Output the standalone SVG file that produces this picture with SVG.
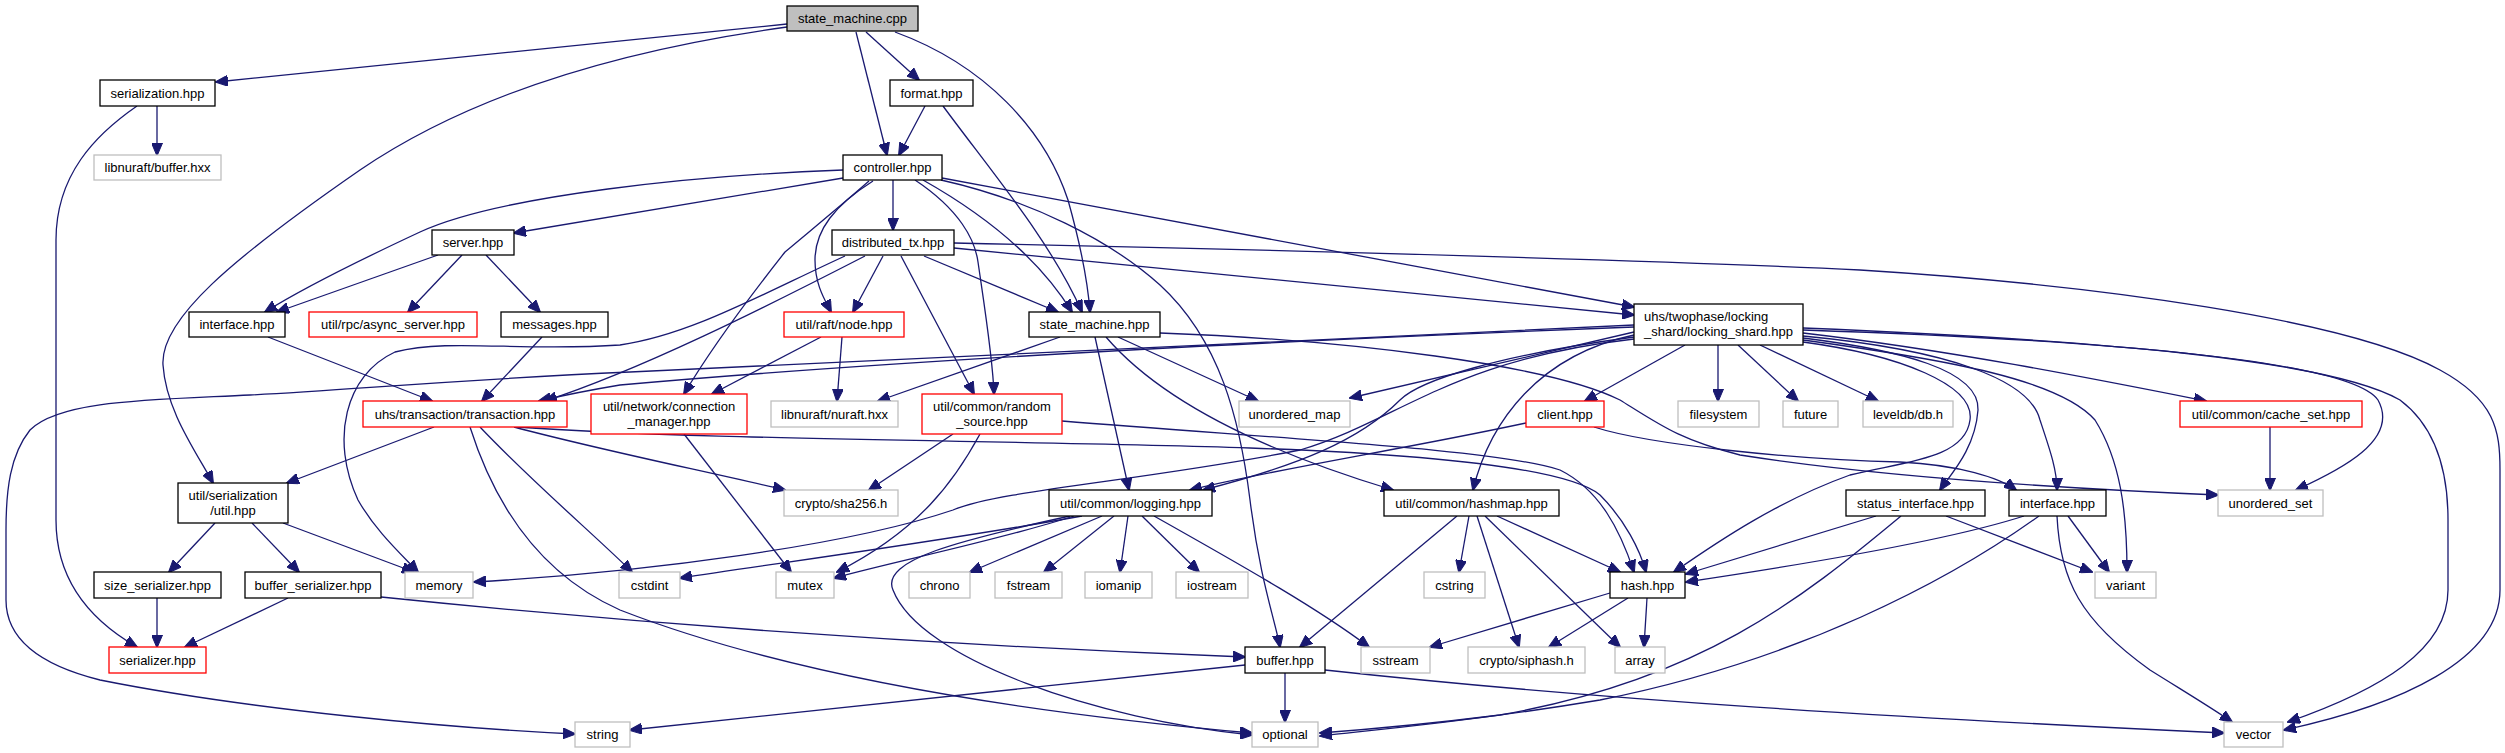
<svg xmlns="http://www.w3.org/2000/svg" width="2505" height="753" viewBox="0 0 2505 753">
<style>
rect{stroke-width:1.3}
.n{fill:#fff;stroke:#000}
.r{fill:#fff;stroke:#ff0000}
.g{fill:#fff;stroke:#bfbfbf}
.root{fill:#bfbfbf;stroke:#000}
text{font-family:"Liberation Sans",Arial,sans-serif;font-size:13px;fill:#000;text-anchor:middle}
.e path{fill:none;stroke:#191970;stroke-width:1.3;marker-end:url(#ah)}
</style>
<defs>
<marker id="ah" markerWidth="13" markerHeight="11" refX="12" refY="5.5" orient="auto" markerUnits="userSpaceOnUse">
<path d="M0,0 L13,5.5 L0,11 z" fill="#191970" stroke="#191970" stroke-width="1"/>
</marker>
</defs>
<rect width="2505" height="753" fill="#fff"/>
<g class="e" id="edges">
<path d="M787,24 L216,82"/>
<path d="M787,27 C620,50 470,95 360,170 C230,260 160,320 163,365 C166,410 195,450 213,483"/>
<path d="M866,32 L919,80"/>
<path d="M856,32 L887,155"/>
<path d="M895,32 C985,65 1045,130 1068,200 C1082,250 1088,285 1090,312"/>
<path d="M157,106 L157,155"/>
<path d="M137,106 C95,135 56,175 56,240 L56,520 C56,580 90,620 137,647"/>
<path d="M925,106 L899,155"/>
<path d="M943,106 C990,170 1050,240 1082,312"/>
<path d="M843,170 C700,175 500,195 420,232 C360,260 300,290 265,312"/>
<path d="M843,178 L514,233"/>
<path d="M893,180 L893,230"/>
<path d="M873,181 C835,205 815,230 815,260 C815,285 825,300 831,312"/>
<path d="M869,181 C830,215 805,235 785,252 C755,290 710,350 684,394"/>
<path d="M915,180 C960,210 975,240 978,262 C985,310 993,360 994,394"/>
<path d="M923,180 C985,215 1040,260 1072,312"/>
<path d="M941,180 C1030,200 1110,240 1160,285 C1220,340 1240,420 1250,500 C1260,580 1275,620 1280,647"/>
<path d="M942,178 L1634,307"/>
<path d="M438,255 L277,312"/>
<path d="M462,255 L408,312"/>
<path d="M486,255 L540,312"/>
<path d="M865,256 C760,310 640,370 545,401"/>
<path d="M845,256 C760,295 690,335 620,345 C520,352 450,338 395,352 C345,375 330,440 358,500 C375,530 400,553 418,572"/>
<path d="M883,256 L853,312"/>
<path d="M924,256 L1058,312"/>
<path d="M901,256 L974,394"/>
<path d="M954,248 L1634,315"/>
<path d="M954,243 C1300,250 1700,262 1860,270 C2100,285 2350,320 2440,370 C2495,400 2500,430 2500,470 L2500,590 C2500,660 2400,705 2284,730"/>
<path d="M268,337 L432,401"/>
<path d="M542,337 L482,401"/>
<path d="M821,337 L712,394"/>
<path d="M842,337 L837,401"/>
<path d="M1060,337 L878,401"/>
<path d="M1118,337 L1258,401"/>
<path d="M1095,337 L1129,490"/>
<path d="M1106,337 C1160,400 1260,450 1393,490"/>
<path d="M1160,333 C1350,340 1550,365 1620,400 C1660,425 1680,440 1740,455 C1900,480 2100,490 2218,495"/>
<path d="M1634,327 C1300,340 900,360 620,385 C590,390 565,395 539,401"/>
<path d="M1634,325 C1200,345 800,365 630,372 C450,380 350,390 250,395 C150,400 60,400 30,430 C10,455 6,490 6,530 L6,600 C6,640 40,665 100,680 C250,710 450,728 575,734"/>
<path d="M1634,332 L1350,398"/>
<path d="M1685,345 L1585,401"/>
<path d="M1718,345 L1718,401"/>
<path d="M1738,345 L1798,401"/>
<path d="M1760,345 L1878,401"/>
<path d="M1803,333 C1950,350 2100,380 2206,401"/>
<path d="M1803,330 C2100,340 2350,360 2378,400 C2400,440 2340,470 2296,490"/>
<path d="M1803,328 C2100,340 2330,360 2400,400 C2440,430 2448,480 2448,520 L2448,590 C2448,650 2380,690 2288,722"/>
<path d="M1803,338 C1900,350 1980,370 1978,410 C1975,450 1950,475 1940,490"/>
<path d="M1803,336 C1950,350 2030,380 2040,420 C2050,450 2057,470 2057,490"/>
<path d="M1803,340 C1950,360 2060,380 2095,420 C2120,460 2127,510 2127,572"/>
<path d="M1634,335 C1540,355 1490,420 1473,490"/>
<path d="M1803,342 C1900,355 1975,385 1970,420 C1965,460 1900,462 1850,475 C1780,500 1720,540 1674,572"/>
<path d="M1634,337 C1500,355 1420,380 1400,400 C1360,440 1300,465 1203,490"/>
<path d="M1634,339 C1450,360 1400,420 1300,450 C1150,480 1000,490 953,510 C850,545 650,572 474,582"/>
<path d="M1526,423 C1400,450 1270,470 1190,490"/>
<path d="M1594,427 C1650,445 1800,460 1900,462 C1960,465 2000,478 2016,490"/>
<path d="M2270,427 L2270,490"/>
<path d="M434,427 L287,483"/>
<path d="M514,427 C600,450 700,470 785,490"/>
<path d="M480,427 C530,480 600,540 632,572"/>
<path d="M470,427 C490,490 530,570 620,610 C800,680 1050,715 1252,733"/>
<path d="M516,427 C700,440 1000,440 1250,448 C1450,455 1570,470 1600,495 C1625,520 1640,550 1646,572"/>
<path d="M684,434 L791,572"/>
<path d="M953,434 L869,490"/>
<path d="M980,434 C955,480 920,530 837,572"/>
<path d="M1062,421 C1300,440 1500,450 1560,470 C1600,490 1620,530 1634,572"/>
<path d="M215,523 L169,572"/>
<path d="M252,523 L299,572"/>
<path d="M283,523 L414,572"/>
<path d="M157,598 L157,647"/>
<path d="M288,598 L185,647"/>
<path d="M381,597 Q800,640 1245,657"/>
<path d="M1082,516 C950,540 800,560 680,578"/>
<path d="M1074,516 C1000,540 900,560 834,578"/>
<path d="M1102,516 L970,572"/>
<path d="M1114,516 L1044,572"/>
<path d="M1128,516 L1120,572"/>
<path d="M1142,516 L1199,572"/>
<path d="M1154,516 C1250,570 1320,610 1369,647"/>
<path d="M1070,516 C960,540 880,560 893,590 C920,660 1100,720 1252,735"/>
<path d="M1457,516 L1300,647"/>
<path d="M1469,516 L1459,572"/>
<path d="M1477,516 L1519,647"/>
<path d="M1485,516 L1620,647"/>
<path d="M1497,516 L1620,572"/>
<path d="M1610,593 L1430,647"/>
<path d="M1628,598 L1549,647"/>
<path d="M1647,598 L1644,647"/>
<path d="M1876,516 L1686,574"/>
<path d="M1901,516 C1800,600 1700,680 1500,715 C1420,725 1360,730 1320,733"/>
<path d="M1946,516 L2092,572"/>
<path d="M2024,516 C1950,540 1800,565 1686,582"/>
<path d="M2039,516 C1950,580 1800,660 1600,700 C1450,725 1350,732 1320,736"/>
<path d="M2068,516 L2109,572"/>
<path d="M2057,516 C2060,580 2080,620 2150,670 C2190,695 2215,710 2232,722"/>
<path d="M1285,673 L1285,722"/>
<path d="M1325,670 C1600,700 1900,718 2224,733"/>
<path d="M1245,665 L630,730"/>
</g>
<g id="state_machine_cpp"><rect class="root" x="787" y="6" width="131" height="25"/><text x="852.5" y="23">state_machine.cpp</text></g>
<g id="serialization_hpp"><rect class="n" x="100" y="80" width="115" height="26"/><text x="157.5" y="97.5">serialization.hpp</text></g>
<g id="libnuraft_buffer_hxx"><rect class="g" x="94" y="155" width="127" height="25"/><text x="157.5" y="172">libnuraft/buffer.hxx</text></g>
<g id="format_hpp"><rect class="n" x="890" y="80" width="83" height="26"/><text x="931.5" y="97.5">format.hpp</text></g>
<g id="controller_hpp"><rect class="n" x="843" y="155" width="99" height="25"/><text x="892.5" y="172">controller.hpp</text></g>
<g id="server_hpp"><rect class="n" x="432" y="230" width="82" height="25"/><text x="473" y="247">server.hpp</text></g>
<g id="distributed_tx_hpp"><rect class="n" x="832" y="230" width="122" height="25"/><text x="893" y="247">distributed_tx.hpp</text></g>
<g id="interface_hpp_l"><rect class="n" x="189" y="312" width="96" height="25"/><text x="237" y="329">interface.hpp</text></g>
<g id="async_server_hpp"><rect class="r" x="309" y="312" width="168" height="25"/><text x="393" y="329">util/rpc/async_server.hpp</text></g>
<g id="messages_hpp"><rect class="n" x="501" y="312" width="107" height="25"/><text x="554.5" y="329">messages.hpp</text></g>
<g id="node_hpp"><rect class="r" x="784" y="312" width="120" height="25"/><text x="844" y="329">util/raft/node.hpp</text></g>
<g id="state_machine_hpp"><rect class="n" x="1029" y="312" width="131" height="25"/><text x="1094.5" y="329">state_machine.hpp</text></g>
<g id="locking_shard_hpp"><rect class="n" x="1634" y="304" width="169" height="41"/><text x="1644" y="321" style="text-anchor:start">uhs/twophase/locking</text><text x="1644" y="336" style="text-anchor:start">_shard/locking_shard.hpp</text></g>
<g id="transaction_hpp"><rect class="r" x="363" y="401" width="204" height="26"/><text x="465" y="418.5">uhs/transaction/transaction.hpp</text></g>
<g id="connection_manager_hpp"><rect class="r" x="591" y="394" width="156" height="40"/><text x="669" y="411">util/network/connection</text><text x="669" y="426">_manager.hpp</text></g>
<g id="nuraft_hxx"><rect class="g" x="771" y="401" width="127" height="26"/><text x="834.5" y="418.5">libnuraft/nuraft.hxx</text></g>
<g id="random_source_hpp"><rect class="r" x="922" y="394" width="140" height="40"/><text x="992" y="411">util/common/random</text><text x="992" y="426">_source.hpp</text></g>
<g id="unordered_map"><rect class="g" x="1239" y="401" width="111" height="26"/><text x="1294.5" y="418.5">unordered_map</text></g>
<g id="client_hpp"><rect class="r" x="1526" y="401" width="78" height="26"/><text x="1565" y="418.5">client.hpp</text></g>
<g id="filesystem"><rect class="g" x="1678" y="401" width="81" height="26"/><text x="1718.5" y="418.5">filesystem</text></g>
<g id="future"><rect class="g" x="1783" y="401" width="55" height="26"/><text x="1810.5" y="418.5">future</text></g>
<g id="leveldb_db_h"><rect class="g" x="1863" y="401" width="90" height="26"/><text x="1908" y="418.5">leveldb/db.h</text></g>
<g id="cache_set_hpp"><rect class="r" x="2180" y="401" width="182" height="26"/><text x="2271" y="418.5">util/common/cache_set.hpp</text></g>
<g id="serialization_util_hpp"><rect class="n" x="178" y="483" width="110" height="40"/><text x="233" y="500">util/serialization</text><text x="233" y="515">/util.hpp</text></g>
<g id="sha256_h"><rect class="g" x="784" y="490" width="114" height="26"/><text x="841" y="507.5">crypto/sha256.h</text></g>
<g id="logging_hpp"><rect class="n" x="1049" y="490" width="163" height="26"/><text x="1130.5" y="507.5">util/common/logging.hpp</text></g>
<g id="hashmap_hpp"><rect class="n" x="1384" y="490" width="175" height="26"/><text x="1471.5" y="507.5">util/common/hashmap.hpp</text></g>
<g id="status_interface_hpp"><rect class="n" x="1846" y="490" width="139" height="26"/><text x="1915.5" y="507.5">status_interface.hpp</text></g>
<g id="interface_hpp_r"><rect class="n" x="2009" y="490" width="97" height="26"/><text x="2057.5" y="507.5">interface.hpp</text></g>
<g id="unordered_set"><rect class="g" x="2218" y="490" width="105" height="26"/><text x="2270.5" y="507.5">unordered_set</text></g>
<g id="size_serializer_hpp"><rect class="n" x="94" y="572" width="127" height="26"/><text x="157.5" y="589.5">size_serializer.hpp</text></g>
<g id="buffer_serializer_hpp"><rect class="n" x="245" y="572" width="136" height="26"/><text x="313" y="589.5">buffer_serializer.hpp</text></g>
<g id="memory"><rect class="g" x="405" y="572" width="68" height="26"/><text x="439" y="589.5">memory</text></g>
<g id="cstdint"><rect class="g" x="619" y="572" width="61" height="26"/><text x="649.5" y="589.5">cstdint</text></g>
<g id="mutex"><rect class="g" x="776" y="572" width="58" height="26"/><text x="805" y="589.5">mutex</text></g>
<g id="chrono"><rect class="g" x="909" y="572" width="61" height="26"/><text x="939.5" y="589.5">chrono</text></g>
<g id="fstream"><rect class="g" x="995" y="572" width="67" height="26"/><text x="1028.5" y="589.5">fstream</text></g>
<g id="iomanip"><rect class="g" x="1085" y="572" width="67" height="26"/><text x="1118.5" y="589.5">iomanip</text></g>
<g id="iostream"><rect class="g" x="1176" y="572" width="72" height="26"/><text x="1212" y="589.5">iostream</text></g>
<g id="cstring"><rect class="g" x="1424" y="572" width="61" height="26"/><text x="1454.5" y="589.5">cstring</text></g>
<g id="hash_hpp"><rect class="n" x="1610" y="572" width="75" height="26"/><text x="1647.5" y="589.5">hash.hpp</text></g>
<g id="variant"><rect class="g" x="2095" y="572" width="61" height="26"/><text x="2125.5" y="589.5">variant</text></g>
<g id="serializer_hpp"><rect class="r" x="109" y="647" width="97" height="26"/><text x="157.5" y="664.5">serializer.hpp</text></g>
<g id="buffer_hpp"><rect class="n" x="1245" y="647" width="80" height="26"/><text x="1285" y="664.5">buffer.hpp</text></g>
<g id="sstream"><rect class="g" x="1361" y="647" width="69" height="26"/><text x="1395.5" y="664.5">sstream</text></g>
<g id="siphash_h"><rect class="g" x="1468" y="647" width="117" height="26"/><text x="1526.5" y="664.5">crypto/siphash.h</text></g>
<g id="array"><rect class="g" x="1615" y="647" width="50" height="26"/><text x="1640" y="664.5">array</text></g>
<g id="string"><rect class="g" x="575" y="722" width="55" height="25"/><text x="602.5" y="739">string</text></g>
<g id="optional"><rect class="g" x="1252" y="722" width="66" height="25"/><text x="1285" y="739">optional</text></g>
<g id="vector"><rect class="g" x="2224" y="722" width="59" height="25"/><text x="2253.5" y="739">vector</text></g>
</svg>
